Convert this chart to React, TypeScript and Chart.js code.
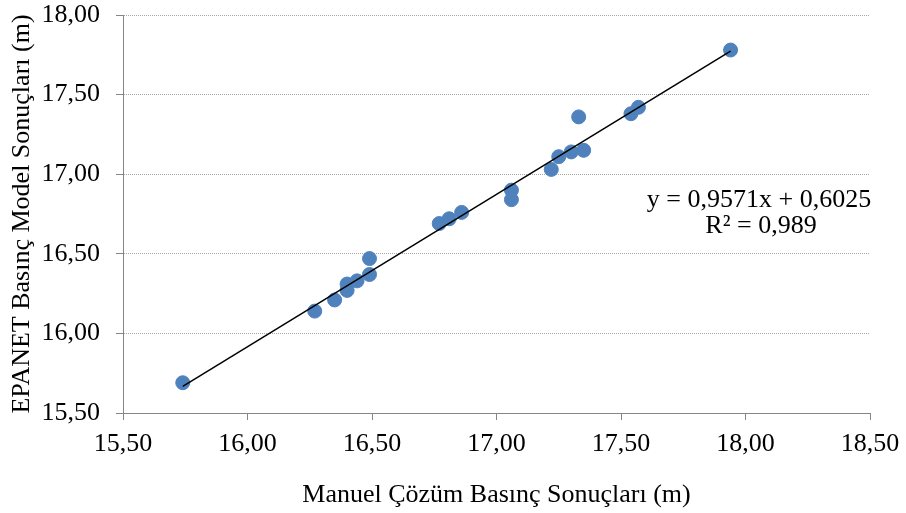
import React, { useEffect, useRef } from "react";
import { Chart, registerables } from "chart.js";

Chart.register(...registerables);

const manuelValues = [
  15.74, 16.27, 16.35, 16.40, 16.40, 16.44, 16.49, 16.49, 16.77, 16.81, 16.86,
  17.06, 17.06, 17.22, 17.25, 17.30, 17.35, 17.33, 17.54, 17.57, 17.94,
];
const epanetValues = [
  15.69, 16.14, 16.21, 16.27, 16.31, 16.33, 16.37, 16.47, 16.69, 16.72, 16.76,
  16.90, 16.84, 17.03, 17.11, 17.14, 17.15, 17.36, 17.38, 17.42, 17.78,
];
const trendSlope = 0.9571;
const trendIntercept = 0.6025;
const equationLines = ["y = 0,9571x + 0,6025", "R² = 0,989"];
const xTitle = "Manuel Çözüm Basınç Sonuçları (m)";
const yTitle = "EPANET Basınç Model Sonuçları (m)";
const xRange = [15.5, 18.5];
const yRange = [15.5, 18.0];
const tickStep = 0.5;

const FONT = "'Liberation Serif', 'Times New Roman', serif";
const fmt = (v: number) => Number(v).toFixed(2).replace(".", ",");

export default function App() {
  const ref = useRef<HTMLCanvasElement | null>(null);

  useEffect(() => {
    if (!ref.current) return;
    const xMin = Math.min(...manuelValues);
    const xMax = Math.max(...manuelValues);
    const points = manuelValues.map((x, i) => ({ x, y: epanetValues[i] }));
    const trend = [
      { x: xMin, y: trendSlope * xMin + trendIntercept },
      { x: xMax, y: trendSlope * xMax + trendIntercept },
    ];

    const equationPlugin = {
      id: "equation",
      afterDatasetsDraw(chart: any) {
        const ctx = chart.ctx;
        ctx.save();
        ctx.fillStyle = "#000";
        ctx.font = `26px ${FONT}`;
        ctx.textAlign = "center";
        ctx.textBaseline = "alphabetic";
        ctx.fillText(equationLines[0], 759, 207);
        ctx.fillText(equationLines[1], 761, 233);
        ctx.restore();
      },
    };

    const chart = new Chart(ref.current, {
      type: "scatter",
      data: {
        datasets: [
          {
            type: "line" as any,
            data: trend,
            borderColor: "#000000",
            borderWidth: 1.5,
            pointRadius: 0,
            fill: false,
            order: 0,
          } as any,
          {
            data: points,
            backgroundColor: "#4F81BD",
            borderColor: "#4F81BD",
            pointRadius: 7,
            pointHoverRadius: 7,
            order: 1,
          },
        ],
      },
      options: {
        animation: false,
        responsive: false,
        events: [],
        layout: { autoPadding: false, padding: { left: 0, top: 15, right: 36, bottom: 0 } },
        plugins: {
          legend: { display: false },
          tooltip: { enabled: false },
        },
        scales: {
          x: {
            type: "linear",
            min: xRange[0],
            max: xRange[1],
            afterFit: (s: any) => {
              s.height = 100;
              s.paddingLeft = 0;
              s.paddingRight = 0;
              s.paddingTop = 0;
              s.paddingBottom = 0;
            },
            ticks: {
              stepSize: tickStep,
              callback: (v: any) => fmt(v),
              color: "#000",
              font: { family: FONT, size: 26, lineHeight: 1.1 },
              padding: 10,
              maxRotation: 0,
            },
            grid: {
              drawOnChartArea: false,
              drawTicks: true,
              tickLength: 7,
              tickColor: "#868686",
            },
            border: { display: true, color: "#868686", width: 1 },
            title: {
              display: true,
              text: xTitle,
              color: "#000",
              font: { family: FONT, size: 26 },
              padding: { top: 0, bottom: 2 },
            },
          },
          y: {
            type: "linear",
            min: yRange[0],
            max: yRange[1],
            afterFit: (s: any) => {
              s.width = 123;
              s.paddingLeft = 0;
              s.paddingRight = 0;
              s.paddingTop = 0;
              s.paddingBottom = 0;
            },
            ticks: {
              stepSize: tickStep,
              callback: (v: any) => fmt(v),
              color: "#000",
              font: { family: FONT, size: 26, lineHeight: 1.15 },
              padding: 16,
            },
            grid: {
              drawOnChartArea: true,
              drawTicks: true,
              tickLength: 7,
              color: "#A6A6A6",
              tickColor: "#868686",
              lineWidth: 1,
            },
            border: { display: true, color: "#868686", width: 1, dash: [1, 1] },
            title: {
              display: true,
              text: yTitle,
              color: "#000",
              font: { family: FONT, size: 26 },
              padding: { top: 7, bottom: 0 },
            },
          },
        },
      },
      plugins: [equationPlugin],
    } as any);

    return () => chart.destroy();
  }, []);

  return (
    <div style={{ position: "fixed", left: 0, top: 0, width: 906, height: 513, background: "#fff" }}>
      <canvas ref={ref} width={906} height={513} style={{ display: "block" }} />
    </div>
  );
}
